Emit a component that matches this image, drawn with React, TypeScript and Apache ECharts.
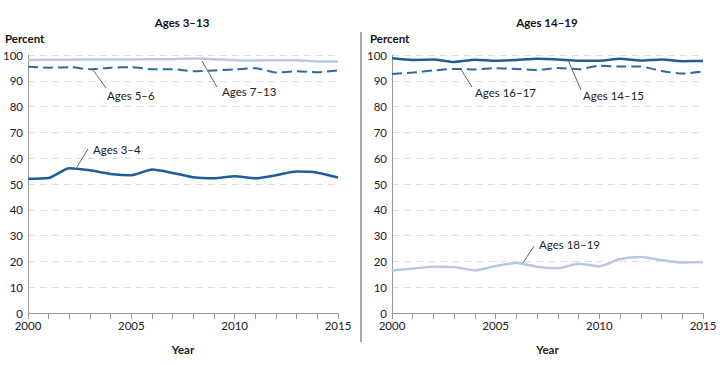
import React, { useEffect, useRef } from "react";
import * as echarts from "echarts";

const years = [2000, 2001, 2002, 2003, 2004, 2005, 2006, 2007, 2008, 2009, 2010, 2011, 2012, 2013, 2014, 2015];
const ages3to4 = [52.0, 52.3, 56.1, 55.3, 53.9, 53.4, 55.6, 54.3, 52.6, 52.2, 53.0, 52.2, 53.4, 54.8, 54.4, 52.5];
const ages5to6 = [95.4, 95.1, 95.3, 94.5, 95.1, 95.3, 94.5, 94.5, 93.7, 94.0, 94.4, 94.9, 93.2, 93.7, 93.3, 94.0];
const ages7to13 = [98.1, 98.2, 98.2, 98.3, 98.3, 98.3, 98.4, 98.4, 98.6, 98.4, 98.0, 97.9, 98.0, 98.0, 97.5, 97.5];
const ages14to15 = [98.7, 98.1, 98.3, 97.3, 98.2, 97.8, 98.1, 98.5, 98.3, 97.8, 97.8, 98.5, 97.9, 98.3, 97.6, 97.7];
const ages16to17 = [92.6, 93.2, 94.0, 94.6, 94.4, 94.9, 94.6, 94.2, 95.0, 94.5, 95.8, 95.5, 95.5, 93.8, 92.8, 93.6];
const ages18to19 = [16.5, 17.2, 17.9, 17.8, 16.5, 18.2, 19.4, 17.9, 17.3, 19.1, 18.1, 20.9, 21.7, 20.5, 19.6, 19.7];

const DARK = "#1e5e98";
const MID = "#2c6aa3";
const LIGHT = "#b8c7e2";
const FONT = "Lato";

export default function App() {
  const ref = useRef<HTMLDivElement>(null);
  useEffect(() => {
    if (!ref.current) return;
    const chart = echarts.init(ref.current, null, { renderer: "svg" });
    const pair = (arr: number[]) => years.map((y, i) => [y, arr[i]]);
    const xAxis = (gi: number) => ({
      type: "value",
      gridIndex: gi,
      min: 2000,
      max: 2015,
      interval: 1,
      axisLine: { show: true, lineStyle: { color: "#999", width: 1 } },
      axisTick: { show: true, length: 6, lineStyle: { color: "#999" } },
      splitLine: { show: false },
      axisLabel: {
        color: "#222",
        fontSize: 11.5,
        fontFamily: FONT,
        margin: 6,
        formatter: (v: number) => (v % 5 === 0 ? String(v) : ""),
      },
      name: "Year",
      nameLocation: "middle",
      nameGap: 30,
      nameTextStyle: { fontWeight: "bold", fontSize: 11.5, fontFamily: FONT, color: "#222" },
    });
    const yAxis = (gi: number) => ({
      type: "value",
      gridIndex: gi,
      min: 0,
      max: 100,
      interval: 10,
      axisLine: { show: true, lineStyle: { color: "#999", width: 1 } },
      axisTick: { show: false },
      splitLine: { show: true, lineStyle: { color: "#ddd", type: [7, 5] } },
      axisLabel: { color: "#222", fontSize: 11.5, fontFamily: FONT, margin: 5 },
    });
    const line = (gi: number, data: number[], color: string, dashed: boolean) => ({
      type: "line",
      xAxisIndex: gi,
      yAxisIndex: gi,
      data: pair(data),
      showSymbol: false,
      smooth: 0.2,
      lineStyle: { color, width: dashed ? 2 : 2.5, type: dashed ? [10, 5] : "solid" },
      z: 3,
    });
    const label = (x: number, y: number, t: string) => ({
      type: "text",
      x,
      y,
      style: { text: t, fontSize: 11.5, fontFamily: FONT, fill: "#222", textVerticalAlign: "middle" },
    });
    const leader = (x1: number, y1: number, x2: number, y2: number) => ({
      type: "line",
      shape: { x1, y1, x2, y2 },
      style: { stroke: "#666", lineWidth: 1 },
      z: 10,
    });
    const boldText = (x: number, y: number, t: string, align: string) => ({
      type: "text",
      x,
      y,
      style: { text: t, fontSize: 11.5, fontWeight: "bold", fontFamily: FONT, fill: "#111", textAlign: align, textVerticalAlign: "middle" },
    });
    chart.setOption({
      animation: false,
      backgroundColor: "#fff",
      grid: [
        { left: 27, top: 55, width: 311, height: 258 },
        { left: 392, top: 55, width: 311, height: 258 },
      ],
      xAxis: [xAxis(0), xAxis(1)],
      yAxis: [yAxis(0), yAxis(1)],
      series: [
        line(0, ages7to13, LIGHT, false),
        line(0, ages5to6, MID, true),
        line(0, ages3to4, DARK, false),
        line(1, ages14to15, DARK, false),
        line(1, ages16to17, MID, true),
        line(1, ages18to19, LIGHT, false),
      ],
      graphic: [
        boldText(182, 22, "Ages 3–13", "center"),
        boldText(547, 22, "Ages 14–19", "center"),
        boldText(5, 38, "Percent", "left"),
        boldText(370, 38, "Percent", "left"),
        { type: "rect", shape: { x: 360, y: 32, width: 2, height: 310 }, style: { fill: "#aaa" } },
        leader(93, 70, 106, 88),
        label(107, 95, "Ages 5–6"),
        leader(202, 61, 217, 87),
        label(222, 91, "Ages 7–13"),
        leader(88, 149, 77, 167),
        label(93, 149, "Ages 3–4"),
        leader(460, 68, 472, 87),
        label(475, 92, "Ages 16–17"),
        leader(568, 60, 581, 90),
        label(583, 95, "Ages 14–15"),
        leader(534, 246, 523, 263),
        label(539, 244, "Ages 18–19"),
      ],
    });
    return () => chart.dispose();
  }, []);
  return <div ref={ref} style={{ width: 720, height: 365, position: "absolute", left: 0, top: 0 }} />;
}
